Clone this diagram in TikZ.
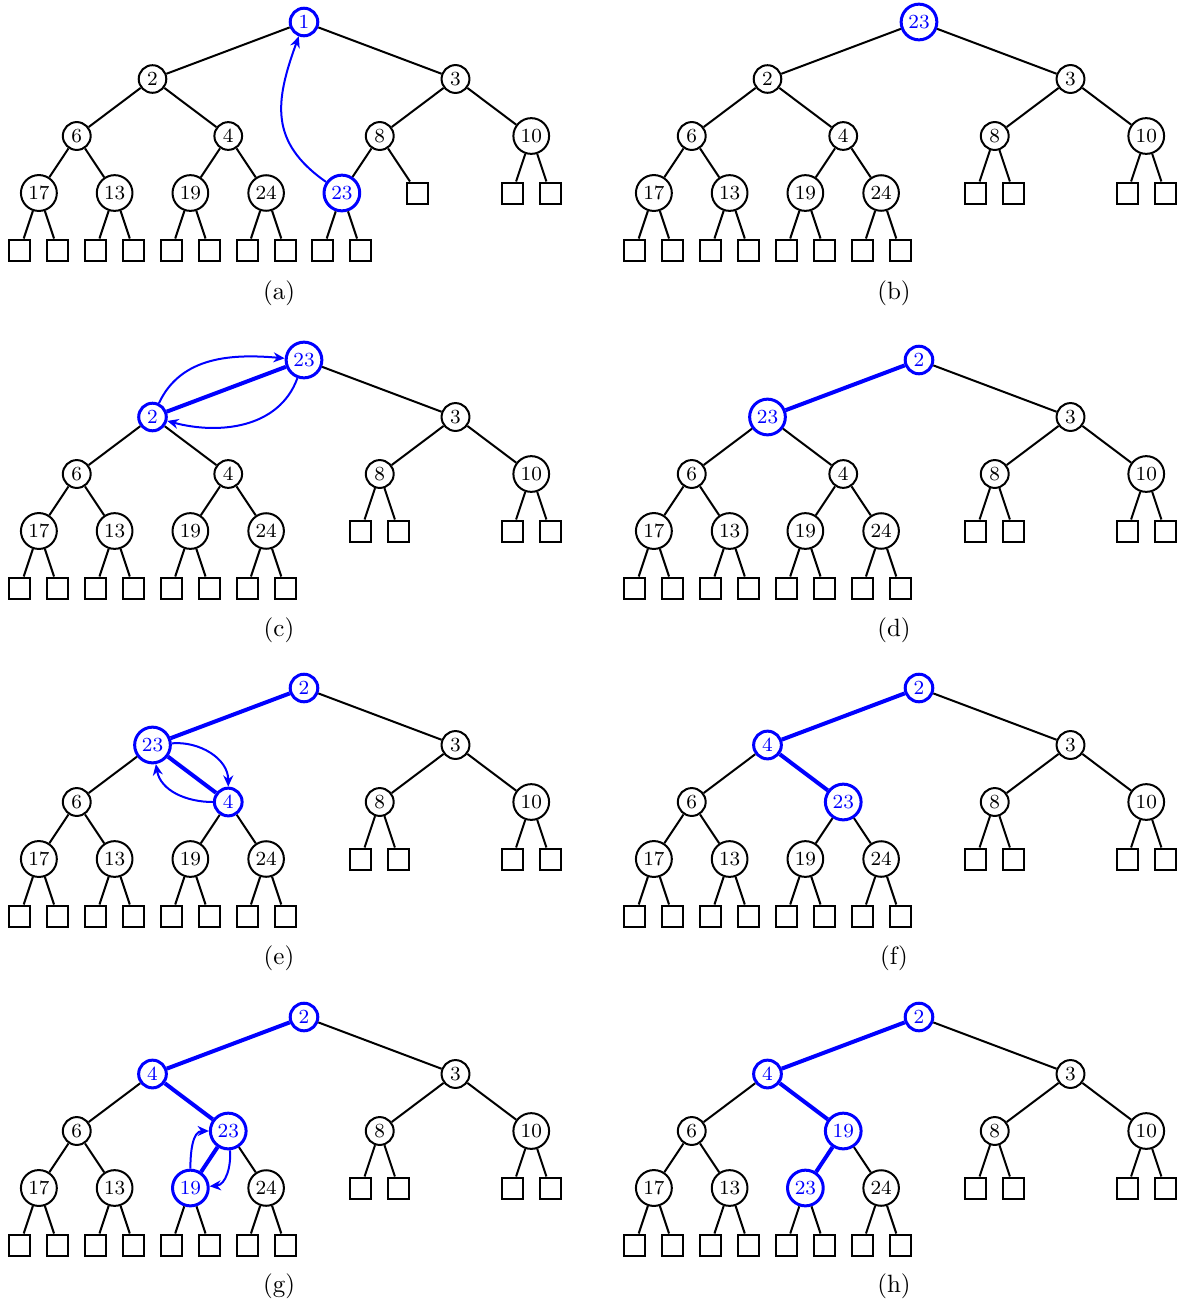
\documentclass[tikz,border=0pt]{standalone}
\usepackage{tikz}
\usetikzlibrary{arrows.meta,trees}

\begin{document}
\begin{tikzpicture}[
  vtx/.style={circle, draw=black, text=black, thick, inner sep=1.5pt, font=\footnotesize},
  hl/.style={draw=blue, text=blue, line width=1.2pt},
  leaf/.style={rectangle, draw=black, thick, minimum size=8.4pt, inner sep=0pt},
  hledge/.style={draw=blue, line width=1.6pt},
  pair/.style={sibling distance=15.2pt},
  swap/.style={-{Stealth[length=4.5pt,width=4pt]}, blue, thick},
  every child node/.style={vtx},
  edge from parent/.style={draw=black, thick},
  level distance=22.8pt,
  level 1/.style={sibling distance=121.2pt},
  level 2/.style={sibling distance=60.6pt},
  level 3/.style={sibling distance=30.3pt},
  level 4/.style={sibling distance=15.2pt},
]
\useasboundingbox (0,0) rectangle (472.8pt,-522.4pt);

% (a) new key at the root
\node[vtx,hl] (ra) at (121.6pt,-8.8pt) {1}
  child {node {2}
    child {node {6}
      child {node {17} child {node[leaf] {}} child {node[leaf] {}}}
      child {node {13} child {node[leaf] {}} child {node[leaf] {}}}}
    child {node {4}
      child {node {19} child {node[leaf] {}} child {node[leaf] {}}}
      child {node {24} child {node[leaf] {}} child {node[leaf] {}}}}}
  child {node {3}
    child {node {8}
      child {node[hl] {23} child {node[leaf] {}} child {node[leaf] {}}}
      child {node[leaf] {}}}
    child {node {10} child[pair] {node[leaf] {}} child[pair] {node[leaf] {}}}};
\draw[swap] (ra-2-1-1) to[out=145,in=250,looseness=1.2] (ra);
\node (capa) at (111.6pt,-117.2pt) {(a)};

% (b)
\node[vtx,hl] (rb) at (367.6pt,-8.8pt) {23}
  child {node {2}
    child {node {6}
      child {node {17} child {node[leaf] {}} child {node[leaf] {}}}
      child {node {13} child {node[leaf] {}} child {node[leaf] {}}}}
    child {node {4}
      child {node {19} child {node[leaf] {}} child {node[leaf] {}}}
      child {node {24} child {node[leaf] {}} child {node[leaf] {}}}}}
  child {node {3}
    child {node {8} child[pair] {node[leaf] {}} child[pair] {node[leaf] {}}}
    child {node {10} child[pair] {node[leaf] {}} child[pair] {node[leaf] {}}}};
\node (capb) at (357.6pt,-117.2pt) {(b)};

% (c)
\node[vtx,hl] (rc) at (121.6pt,-144pt) {23}
  child {node[hl] {2}
    child {node {6}
      child {node {17} child {node[leaf] {}} child {node[leaf] {}}}
      child {node {13} child {node[leaf] {}} child {node[leaf] {}}}}
    child {node {4}
      child {node {19} child {node[leaf] {}} child {node[leaf] {}}}
      child {node {24} child {node[leaf] {}} child {node[leaf] {}}}}
    edge from parent[hledge]}
  child {node {3}
    child {node {8} child[pair] {node[leaf] {}} child[pair] {node[leaf] {}}}
    child {node {10} child[pair] {node[leaf] {}} child[pair] {node[leaf] {}}}};
\draw[swap] (rc-1) to[out=65,in=175] (rc);
\draw[swap] (rc) to[out=250,in=-15] (rc-1);
\node (capc) at (111.6pt,-252pt) {(c)};

% (d)
\node[vtx,hl] (rd) at (367.6pt,-144pt) {2}
  child {node[hl] {23}
    child {node {6}
      child {node {17} child {node[leaf] {}} child {node[leaf] {}}}
      child {node {13} child {node[leaf] {}} child {node[leaf] {}}}}
    child {node {4}
      child {node {19} child {node[leaf] {}} child {node[leaf] {}}}
      child {node {24} child {node[leaf] {}} child {node[leaf] {}}}}
    edge from parent[hledge]}
  child {node {3}
    child {node {8} child[pair] {node[leaf] {}} child[pair] {node[leaf] {}}}
    child {node {10} child[pair] {node[leaf] {}} child[pair] {node[leaf] {}}}};
\node (capd) at (357.6pt,-252pt) {(d)};

% (e)
\node[vtx,hl] (re) at (121.6pt,-275.2pt) {2}
  child {node[hl] {23}
    child {node {6}
      child {node {17} child {node[leaf] {}} child {node[leaf] {}}}
      child {node {13} child {node[leaf] {}} child {node[leaf] {}}}}
    child {node[hl] {4}
      child {node {19} child {node[leaf] {}} child {node[leaf] {}}}
      child {node {24} child {node[leaf] {}} child {node[leaf] {}}}
      edge from parent[hledge]}
    edge from parent[hledge]}
  child {node {3}
    child {node {8} child[pair] {node[leaf] {}} child[pair] {node[leaf] {}}}
    child {node {10} child[pair] {node[leaf] {}} child[pair] {node[leaf] {}}}};
\draw[swap] (re-1) to[out=5,in=90] (re-1-2);
\draw[swap] (re-1-2) to[out=180,in=-80] (re-1);
\node (cape) at (111.6pt,-383.2pt) {(e)};

% (f)
\node[vtx,hl] (rf) at (367.6pt,-275.2pt) {2}
  child {node[hl] {4}
    child {node {6}
      child {node {17} child {node[leaf] {}} child {node[leaf] {}}}
      child {node {13} child {node[leaf] {}} child {node[leaf] {}}}}
    child {node[hl] {23}
      child {node {19} child {node[leaf] {}} child {node[leaf] {}}}
      child {node {24} child {node[leaf] {}} child {node[leaf] {}}}
      edge from parent[hledge]}
    edge from parent[hledge]}
  child {node {3}
    child {node {8} child[pair] {node[leaf] {}} child[pair] {node[leaf] {}}}
    child {node {10} child[pair] {node[leaf] {}} child[pair] {node[leaf] {}}}};
\node (capf) at (357.6pt,-383.2pt) {(f)};

% (g)
\node[vtx,hl] (rg) at (121.6pt,-406.8pt) {2}
  child {node[hl] {4}
    child {node {6}
      child {node {17} child {node[leaf] {}} child {node[leaf] {}}}
      child {node {13} child {node[leaf] {}} child {node[leaf] {}}}}
    child {node[hl] {23}
      child {node[hl] {19} child {node[leaf] {}} child {node[leaf] {}}
        edge from parent[hledge]}
      child {node {24} child {node[leaf] {}} child {node[leaf] {}}}
      edge from parent[hledge]}
    edge from parent[hledge]}
  child {node {3}
    child {node {8} child[pair] {node[leaf] {}} child[pair] {node[leaf] {}}}
    child {node {10} child[pair] {node[leaf] {}} child[pair] {node[leaf] {}}}};
\draw[swap] (rg-1-2-1) to[out=90,in=180] (rg-1-2);
\draw[swap] (rg-1-2) to[out=-85,in=5] (rg-1-2-1);
\node (capg) at (111.6pt,-514.4pt) {(g)};

% (h)
\node[vtx,hl] (rh) at (367.6pt,-406.8pt) {2}
  child {node[hl] {4}
    child {node {6}
      child {node {17} child {node[leaf] {}} child {node[leaf] {}}}
      child {node {13} child {node[leaf] {}} child {node[leaf] {}}}}
    child {node[hl] {19}
      child {node[hl] {23} child {node[leaf] {}} child {node[leaf] {}}
        edge from parent[hledge]}
      child {node {24} child {node[leaf] {}} child {node[leaf] {}}}
      edge from parent[hledge]}
    edge from parent[hledge]}
  child {node {3}
    child {node {8} child[pair] {node[leaf] {}} child[pair] {node[leaf] {}}}
    child {node {10} child[pair] {node[leaf] {}} child[pair] {node[leaf] {}}}};
\node (caph) at (357.6pt,-514.4pt) {(h)};
\end{tikzpicture}
\end{document}
